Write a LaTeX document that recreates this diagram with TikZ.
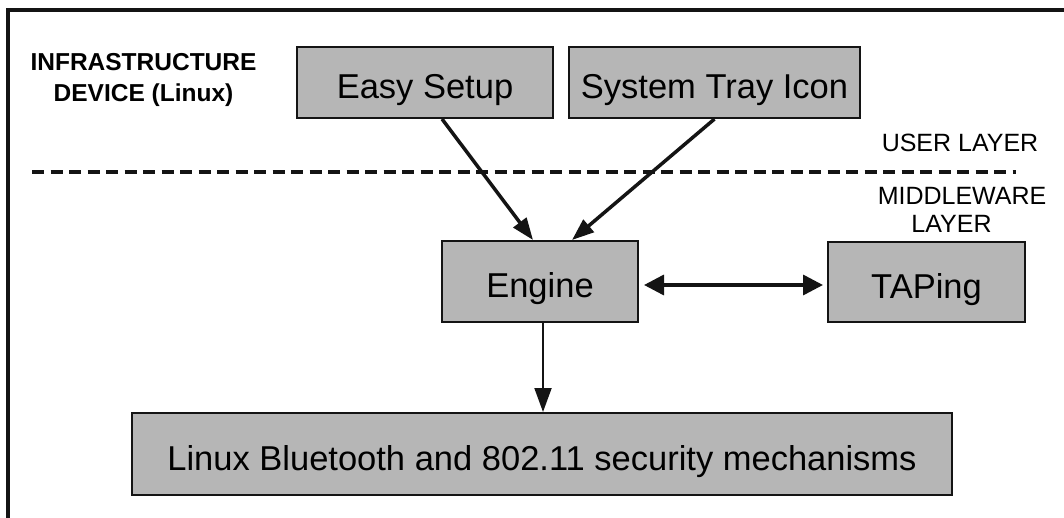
\documentclass[tikz,border=0pt]{standalone}
\usepackage{fontspec}
\setmainfont{Liberation Sans}
\usetikzlibrary{arrows.meta,calc}

\definecolor{boxfill}{RGB}{182,182,182}
\definecolor{ink}{RGB}{20,20,20}

\tikzset{
  block/.style={draw=ink, line width=2pt, fill=boxfill, inner sep=0pt,
    font=\fontsize{34.5}{40}\selectfont, text height=33pt, text depth=0pt},
  layerlabel/.style={font=\fontsize{25}{28}\selectfont, inner sep=0pt},
  titlelabel/.style={font=\fontsize{24.5}{31}\selectfont\bfseries, inner sep=0pt, align=center},
  divider/.style={line width=4pt, draw=ink, dash pattern=on 12pt off 6.5pt},
  frameline/.style={line width=4pt, draw=ink},
  flow/.style={line width=3.5pt, draw=ink, -{Triangle[length=22pt,width=16pt]}},
  twoway/.style={line width=3.5pt, draw=ink,
    {Triangle[length=20pt,width=20pt]}-{Triangle[length=20pt,width=20pt]}},
  downlink/.style={line width=2pt, draw=ink, -{Triangle[length=24pt,width=17pt]}}
}

\begin{document}
\begin{tikzpicture}[x=1pt,y=-1pt]
\useasboundingbox (0,0) rectangle (1064,518);

% outer frame (open at the right and bottom)
\draw[frameline] (8,518) -- (8,10) -- (1064,10);

% boundary between the user layer and the middleware layer
\draw[divider] (32,172) -- (1016,172);

% components
\node[block, minimum width=256pt, minimum height=71pt] (setup)  at (425,82.5)   {Easy Setup};
\node[block, minimum width=291pt, minimum height=71pt] (tray)   at (714.5,82.5) {System Tray Icon};
\node[block, minimum width=196pt, minimum height=81pt] (engine) at (540,281.5)  {Engine};
\node[block, minimum width=197pt, minimum height=80pt] (taping) at (926.5,282)  {TAPing};
\node[block, minimum width=820pt, minimum height=82pt] (linux)  at (542,454)    {Linux Bluetooth and 802.11 security mechanisms};

% connections
\draw[flow] ([xshift=17pt]setup.south) -- ([xshift=-7pt]engine.north);
\draw[flow] (tray.south) -- ([xshift=32pt]engine.north);
\draw[twoway, shorten <=5pt, shorten >=4pt]
  ([yshift=-3.5pt]engine.east) -- ([yshift=-3.5pt]engine.east -| taping.west);
\draw[downlink] ([xshift=3pt]engine.south) -- ([xshift=3pt]engine.south |- linux.north);

% labels
\node[titlelabel] (device) at (143.5,80) {INFRASTRUCTURE\\DEVICE (Linux)};
\node[layerlabel, anchor=base] (user) at (960,152) {USER LAYER};
\node[layerlabel, align=center] (middle) at (962,210) {MIDDLEWARE\\LAYER\hspace*{21pt}};
\end{tikzpicture}
\end{document}
